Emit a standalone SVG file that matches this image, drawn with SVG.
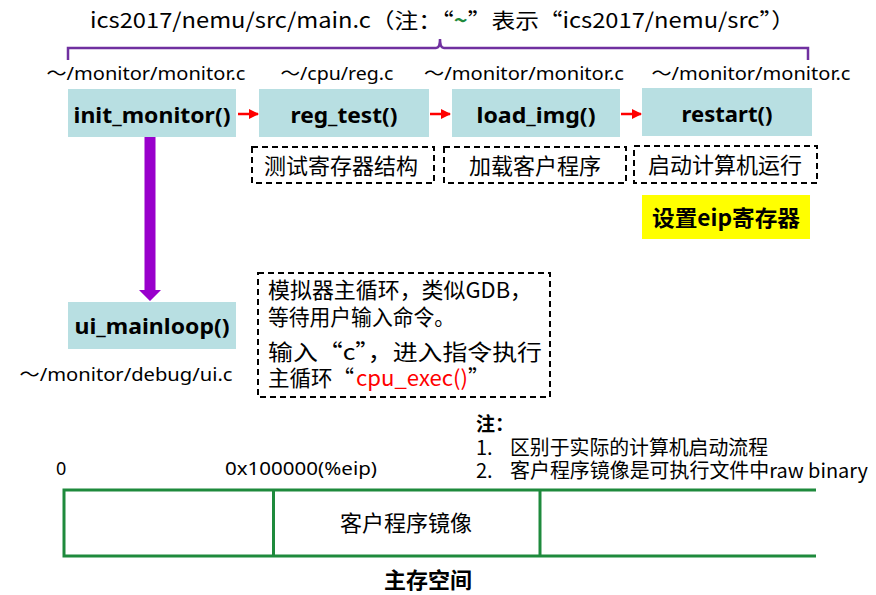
<svg xmlns="http://www.w3.org/2000/svg" width="876" height="595" viewBox="0 0 876 595">
<defs>
<style>
text{font-family:"Noto Sans","Noto Sans CJK SC",sans-serif;fill:#000}
.cjk{font-family:"Noto Sans CJK SC",sans-serif}
.lbl{font-size:18px;text-anchor:middle}
.fn{font-size:21px;font-weight:bold;text-anchor:middle}
.box{fill:#B8DFE2}
.dash{fill:none;stroke:#000;stroke-width:2;stroke-dasharray:6 4}
.nt{font-size:21.5px}
.red{fill:#FF0000}
.ra{stroke:#FF0000;stroke-width:2.5;fill:none;marker-end:url(#rh)}
.mem{stroke:#1E8A3C;stroke-width:3;fill:none}
</style>
<marker id="rh" viewBox="0 0 10 10" refX="9" refY="5" markerWidth="4" markerHeight="4" orient="auto" markerUnits="strokeWidth">
<path d="M0,0 L10,5 L0,10 z" fill="#FF0000"/>
</marker>
</defs>
<rect width="876" height="595" fill="#fff"/>

<g id="title">
<text x="90" y="28" font-size="21" class="cjk" textLength="705" lengthAdjust="spacingAndGlyphs">ics2017/nemu/src/main.c（注：“<tspan fill="#1E8A3C" font-weight="bold">~</tspan>”表示“ics2017/nemu/src”）</text>
<path d="M68,60 V48 H436 Q440,48 440,39 Q440,48 444,48 H808 V60" fill="none" stroke="#7030A0" stroke-width="2.5"/>
</g>

<g id="labels">
<text class="lbl" x="146" y="80" textLength="199" lengthAdjust="spacingAndGlyphs">～/monitor/monitor.c</text>
<text class="lbl" x="337" y="80" textLength="113" lengthAdjust="spacingAndGlyphs">～/cpu/reg.c</text>
<text class="lbl" x="524" y="80" textLength="200" lengthAdjust="spacingAndGlyphs">～/monitor/monitor.c</text>
<text class="lbl" x="751" y="80" textLength="199" lengthAdjust="spacingAndGlyphs">～/monitor/monitor.c</text>
</g>

<g id="init_monitor">
<rect class="box" x="68" y="89" width="168" height="48"/>
<text class="fn" x="152" y="123" textLength="157" lengthAdjust="spacingAndGlyphs">init_monitor()</text>
</g>
<g id="reg_test">
<rect class="box" x="259" y="89" width="170" height="48"/>
<text class="fn" x="344" y="123" textLength="107" lengthAdjust="spacingAndGlyphs">reg_test()</text>
</g>
<g id="load_img">
<rect class="box" x="452" y="89" width="168" height="48"/>
<text class="fn" x="536" y="123" textLength="119" lengthAdjust="spacingAndGlyphs">load_img()</text>
</g>
<g id="restart">
<rect class="box" x="642" y="88" width="170" height="48"/>
<text class="fn" x="727" y="122" textLength="91" lengthAdjust="spacingAndGlyphs">restart()</text>
</g>

<g id="note_reg">
<rect class="dash" x="252" y="147" width="182" height="36"/>
<text class="cjk" x="341" y="174" font-size="22" text-anchor="middle">测试寄存器结构</text>
</g>
<g id="note_load">
<rect class="dash" x="444" y="147" width="182" height="36"/>
<text class="cjk" x="535" y="174" font-size="22" text-anchor="middle">加载客户程序</text>
</g>
<g id="note_restart">
<rect class="dash" x="634" y="146" width="183" height="37"/>
<text class="cjk" x="725" y="173" font-size="22" text-anchor="middle">启动计算机运行</text>
</g>
<g id="eip">
<rect x="642" y="195" width="168" height="44" fill="#FFFF00"/>
<text class="cjk" x="726" y="226" font-size="22" font-weight="bold" text-anchor="middle" textLength="148" lengthAdjust="spacingAndGlyphs">设置eip寄存器</text>
</g>

<g id="ui_mainloop">
<rect class="box" x="68" y="302" width="168" height="47"/>
<text class="fn" x="152" y="334" textLength="155" lengthAdjust="spacingAndGlyphs">ui_mainloop()</text>
<text x="126" y="381" font-size="18" text-anchor="middle" textLength="213" lengthAdjust="spacingAndGlyphs">～/monitor/debug/ui.c</text>
</g>

<g id="note_loop">
<rect class="dash" x="258" y="273" width="292" height="124"/>
<text class="cjk nt" x="268" y="298" textLength="264" lengthAdjust="spacingAndGlyphs">模拟器主循环，类似GDB，</text>
<text class="cjk nt" x="268" y="325" textLength="187" lengthAdjust="spacingAndGlyphs">等待用户输入命令。</text>
<text class="cjk nt" x="268" y="360" textLength="274" lengthAdjust="spacingAndGlyphs">输入“c”，进入指令执行</text>
<text class="cjk nt" x="268" y="386">主循环“</text>
<text class="cjk nt red" x="356" y="386" textLength="112" lengthAdjust="spacingAndGlyphs">cpu_exec()</text>
<text class="cjk nt" x="468" y="386">”</text>
</g>

<g id="connectors">
<line class="ra" x1="238" y1="114" x2="258" y2="114"/>
<line class="ra" x1="430" y1="114" x2="450" y2="114"/>
<line class="ra" x1="621" y1="114" x2="641" y2="114"/>
<path d="M144.5,137 H155.5 V290 H161 L150,301 L139,290 H144.5 Z" fill="#9900CC"/>
</g>

<g id="notes">
<text class="cjk" x="476" y="431" font-size="19" font-weight="bold" fill="#FF0000">注：</text>
<text class="cjk" x="476" y="455" font-size="20">1.</text>
<text class="cjk" x="510" y="455" font-size="20" textLength="258" lengthAdjust="spacingAndGlyphs">区别于实际的计算机启动流程</text>
<text class="cjk" x="476" y="478" font-size="20">2.</text>
<text class="cjk" x="510" y="478" font-size="20" textLength="358" lengthAdjust="spacingAndGlyphs">客户程序镜像是可执行文件中raw binary</text>
</g>

<g id="memory">
<text x="56" y="475" font-size="18">0</text>
<text x="225" y="475" font-size="18" textLength="152" lengthAdjust="spacingAndGlyphs">0x100000(%eip)</text>
<path class="mem" d="M816,490 H64 V556 H816"/>
<line class="mem" x1="273.5" y1="490" x2="273.5" y2="556"/>
<line class="mem" x1="540" y1="490" x2="540" y2="556"/>
<text class="cjk" x="406" y="531" font-size="22" text-anchor="middle">客户程序镜像</text>
<text class="cjk" x="428" y="588" font-size="22" font-weight="bold" text-anchor="middle">主存空间</text>
</g>
</svg>
